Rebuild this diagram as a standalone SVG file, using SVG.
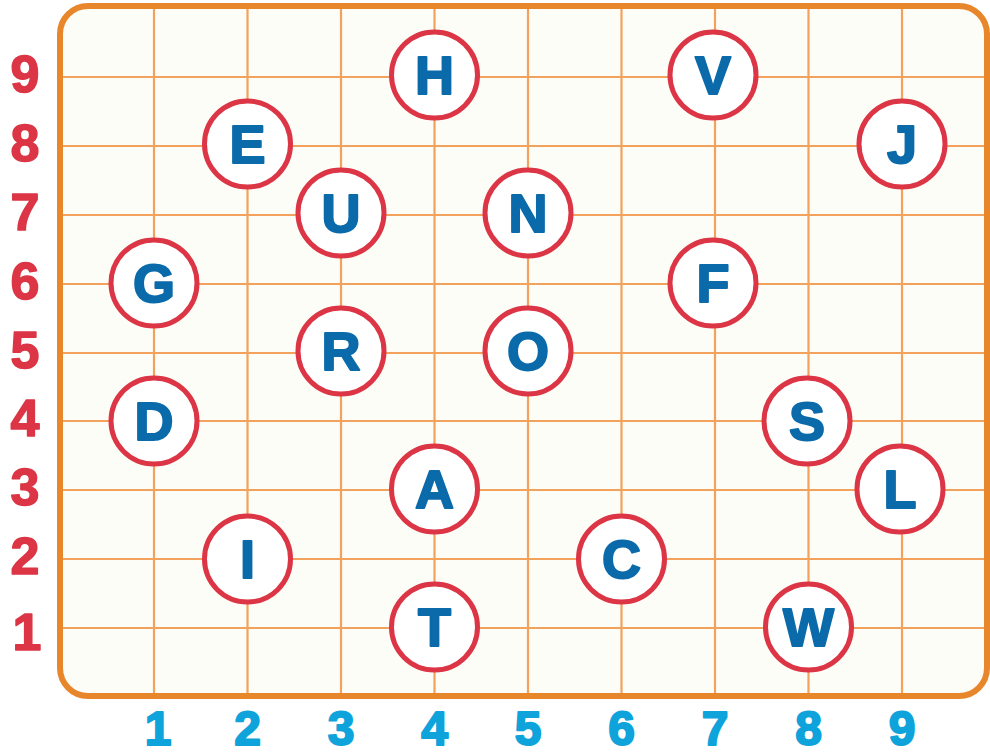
<svg xmlns="http://www.w3.org/2000/svg" width="990" height="756" viewBox="0 0 990 756">
<style>
.grid line{stroke:#f2a25c;stroke-width:2.2}
.node circle{fill:#ffffff;stroke:#dc3545;stroke-width:5}
.node text{font-family:"Liberation Sans",Arial,sans-serif;font-weight:bold;font-size:54px;fill:#0a6aaa;stroke:#0a6aaa;stroke-width:2;stroke-linejoin:round;text-anchor:middle}
.rl{font-family:"Liberation Sans",Arial,sans-serif;font-weight:bold;font-size:52px;fill:#dc3545;stroke:#dc3545;stroke-width:1.5;stroke-linejoin:round;text-anchor:middle}
.cl{font-family:"Liberation Sans",Arial,sans-serif;font-weight:bold;font-size:48px;fill:#0ea3da;stroke:#0ea3da;stroke-width:2;stroke-linejoin:round;text-anchor:middle}
</style>
<rect x="0" y="0" width="990" height="756" fill="#ffffff"/>
<rect x="60" y="6" width="927" height="690" rx="28" fill="#fdfdf7"/>
<g id="connectors" class="grid">
<line x1="154" y1="6" x2="154" y2="696"/>
<line x1="247.5" y1="6" x2="247.5" y2="696"/>
<line x1="341" y1="6" x2="341" y2="696"/>
<line x1="434.5" y1="6" x2="434.5" y2="696"/>
<line x1="528" y1="6" x2="528" y2="696"/>
<line x1="621.5" y1="6" x2="621.5" y2="696"/>
<line x1="715" y1="6" x2="715" y2="696"/>
<line x1="808.5" y1="6" x2="808.5" y2="696"/>
<line x1="902" y1="6" x2="902" y2="696"/>
<line x1="60" y1="77" x2="987" y2="77"/>
<line x1="60" y1="146" x2="987" y2="146"/>
<line x1="60" y1="215" x2="987" y2="215"/>
<line x1="60" y1="284" x2="987" y2="284"/>
<line x1="60" y1="353" x2="987" y2="353"/>
<line x1="60" y1="421" x2="987" y2="421"/>
<line x1="60" y1="490" x2="987" y2="490"/>
<line x1="60" y1="559" x2="987" y2="559"/>
<line x1="60" y1="628" x2="987" y2="628"/>
</g>
<rect x="60" y="6" width="927" height="690" rx="28" fill="none" stroke="#e8862c" stroke-width="6"/>
<g id="rowlabels">
<text class="rl" x="25" y="92">9</text>
<text class="rl" x="25" y="161">8</text>
<text class="rl" x="25" y="230">7</text>
<text class="rl" x="25" y="299">6</text>
<text class="rl" x="25" y="368">5</text>
<text class="rl" x="25" y="436">4</text>
<text class="rl" x="25" y="505">3</text>
<text class="rl" x="25" y="574">2</text>
<text class="rl" x="27" y="650">1</text>
</g>
<g id="collabels">
<text class="cl" x="158" y="745">1</text>
<text class="cl" x="247.5" y="745">2</text>
<text class="cl" x="341" y="745">3</text>
<text class="cl" x="434.5" y="745">4</text>
<text class="cl" x="528" y="745">5</text>
<text class="cl" x="621.5" y="745">6</text>
<text class="cl" x="715" y="745">7</text>
<text class="cl" x="808.5" y="745">8</text>
<text class="cl" x="902" y="745">9</text>
</g>
<g id="H" class="node"><circle cx="434.5" cy="75" r="43"/><text x="434.5" y="94">H</text></g>
<g id="V" class="node"><circle cx="713" cy="75" r="43"/><text x="713" y="94">V</text></g>
<g id="E" class="node"><circle cx="247.5" cy="144" r="43"/><text x="247.5" y="163">E</text></g>
<g id="J" class="node"><circle cx="902" cy="144" r="43"/><text x="902" y="163">J</text></g>
<g id="U" class="node"><circle cx="341" cy="213" r="43"/><text x="341" y="232">U</text></g>
<g id="N" class="node"><circle cx="528" cy="213" r="43"/><text x="528" y="232">N</text></g>
<g id="G" class="node"><circle cx="154" cy="283" r="43"/><text x="154" y="302">G</text></g>
<g id="F" class="node"><circle cx="713" cy="283" r="43"/><text x="713" y="302">F</text></g>
<g id="R" class="node"><circle cx="341" cy="351" r="43"/><text x="341" y="370">R</text></g>
<g id="O" class="node"><circle cx="528" cy="351" r="43"/><text x="528" y="370">O</text></g>
<g id="D" class="node"><circle cx="154" cy="421" r="43"/><text x="154" y="440">D</text></g>
<g id="S" class="node"><circle cx="807" cy="421" r="43"/><text x="807" y="440">S</text></g>
<g id="A" class="node"><circle cx="434.5" cy="489" r="43"/><text x="434.5" y="508">A</text></g>
<g id="L" class="node"><circle cx="900" cy="489" r="43"/><text x="900" y="508">L</text></g>
<g id="I" class="node"><circle cx="247.5" cy="559" r="43"/><text x="247.5" y="578">I</text></g>
<g id="C" class="node"><circle cx="621.5" cy="559" r="43"/><text x="621.5" y="578">C</text></g>
<g id="T" class="node"><circle cx="434.5" cy="627" r="43"/><text x="434.5" y="646">T</text></g>
<g id="W" class="node"><circle cx="808.5" cy="627" r="43"/><text x="808.5" y="646">W</text></g>
</svg>
